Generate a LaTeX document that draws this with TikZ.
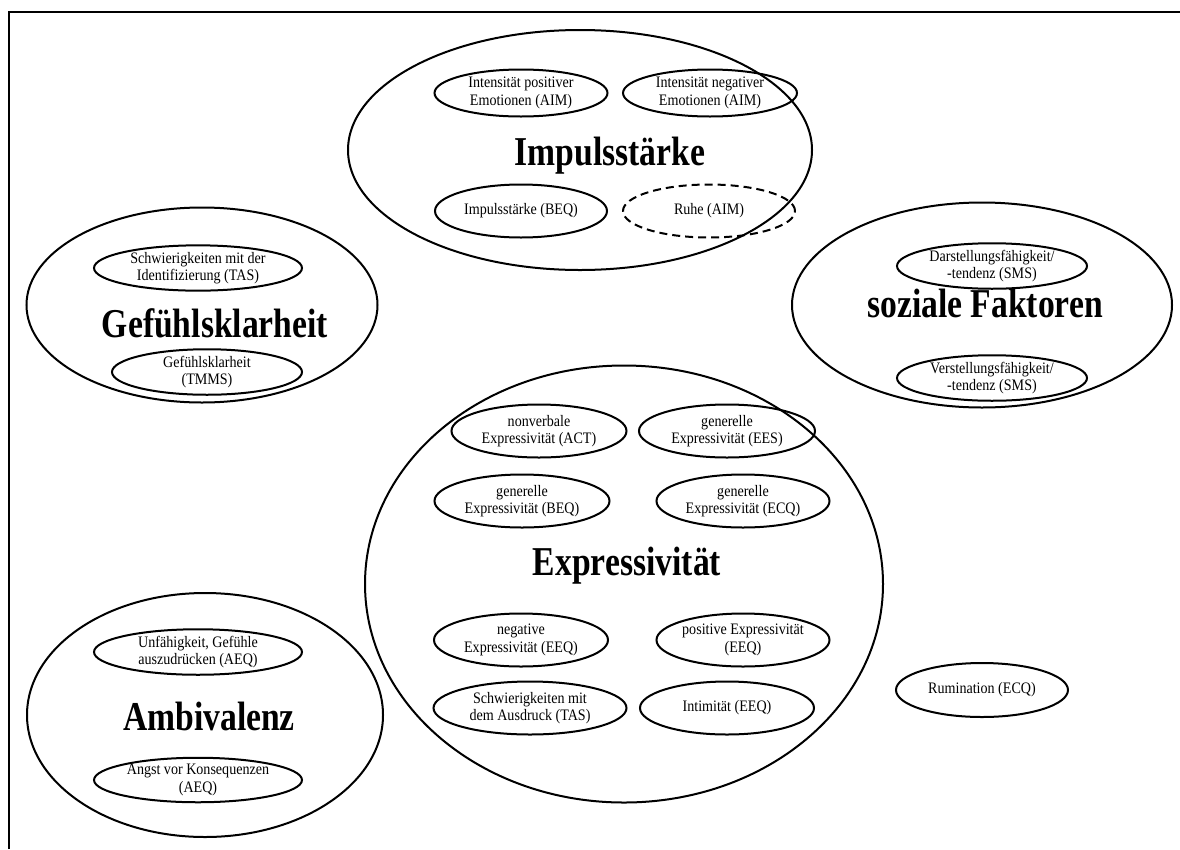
\documentclass[tikz,border=0pt]{standalone}
\usepackage{fontspec}
\setmainfont{Liberation Serif}[FakeStretch=0.88]
\newfontfamily\headfont{Liberation Serif}[FakeStretch=0.82]
\usetikzlibrary{shapes.geometric}

\begin{document}
\begin{tikzpicture}[
  x=1pt, y=-1pt,
  every node/.style={align=center, inner sep=0pt, outer sep=0pt},
  dims/.style 2 args={minimum width=#1pt, minimum height=#2pt},
  facet/.style={draw, ellipse, line width=2pt},
  measure/.style={draw, ellipse, line width=2pt, font=\fontsize{16}{17.5}\selectfont},
  vague/.style={measure, dash pattern=on 8pt off 5pt},
  heading/.style={anchor=base, font=\headfont\bfseries\fontsize{41}{45}\selectfont}
]
\useasboundingbox (0,0) rectangle (1180,849);
\draw[line width=2.4pt] (9,849) -- (9,12) -- (1180,12);

\node[facet, dims={464}{240}] (imp) at (580,150) {};
\node[facet, dims={351}{195}] (gef) at (202,305) {};
\node[facet, dims={380}{205}] (soz) at (982,305) {};
\node[facet, dims={518}{437}] (expr) at (624,584) {};
\node[facet, dims={356}{244}] (amb) at (205,715) {};

\node[heading] (impT) at (610,165) {Impulsstärke};
\node[heading] (gefT) at (215,337) {Gefühlsklarheit};
\node[heading] (sozT) at (985,317) {soziale Faktoren};
\node[heading] (exprT) at (627,575) {Expressivität};
\node[heading] (ambT) at (209,730) {Ambivalenz};

\node[measure, dims={173}{47}] (posEmo) at (521,93) {Intensität positiver\\Emotionen (AIM)};
\node[measure, dims={174}{47}] (negEmo) at (710,93) {Intensität negativer\\Emotionen (AIM)};
\node[measure, dims={172}{53}] (impBEQ) at (521,211) {Impulsstärke (BEQ)};
\node[vague, dims={172}{53}] (ruhe) at (709,211) {Ruhe (AIM)};

\node[measure, dims={208}{45}] (ident) at (198,268) {Schwierigkeiten mit der\\Identifizierung (TAS)};
\node[measure, dims={190}{38}] (tmms) at (207,372) {Gefühlsklarheit\\(TMMS)};

\node[measure, dims={190}{45}] (darst) at (992,266) {Darstellungsfähigkeit/\\-tendenz (SMS)};
\node[measure, dims={190}{45}] (verst) at (992,378) {Verstellungsfähigkeit/\\-tendenz (SMS)};

\node[measure, dims={175}{53}] (act) at (539,431) {nonverbale\\Expressivität (ACT)};
\node[measure, dims={176}{53}] (ees) at (727,431) {generelle\\Expressivität (EES)};
\node[measure, dims={175}{53}] (beq) at (522,501) {generelle\\Expressivität (BEQ)};
\node[measure, dims={173}{53}] (ecq) at (743,501) {generelle\\Expressivität (ECQ)};
\node[measure, dims={174}{53}] (negExp) at (521,640) {negative\\Expressivität (EEQ)};
\node[measure, dims={173}{53}] (posExp) at (743,640) {positive Expressivität\\(EEQ)};
\node[measure, dims={193}{53}] (ausdr) at (530,708) {Schwierigkeiten mit\\dem Ausdruck (TAS)};
\node[measure, dims={174}{53}] (intim) at (727,708) {Intimität (EEQ)};

\node[measure, dims={208}{45}] (unfaeh) at (198,652) {Unfähigkeit, Gefühle\\auszudrücken (AEQ)};
\node[measure, dims={208}{44}] (angst) at (198,780) {Angst vor Konsequenzen\\(AEQ)};

\node[measure, dims={172}{54}] (rumi) at (982,690) {Rumination (ECQ)};
\end{tikzpicture}
\end{document}
